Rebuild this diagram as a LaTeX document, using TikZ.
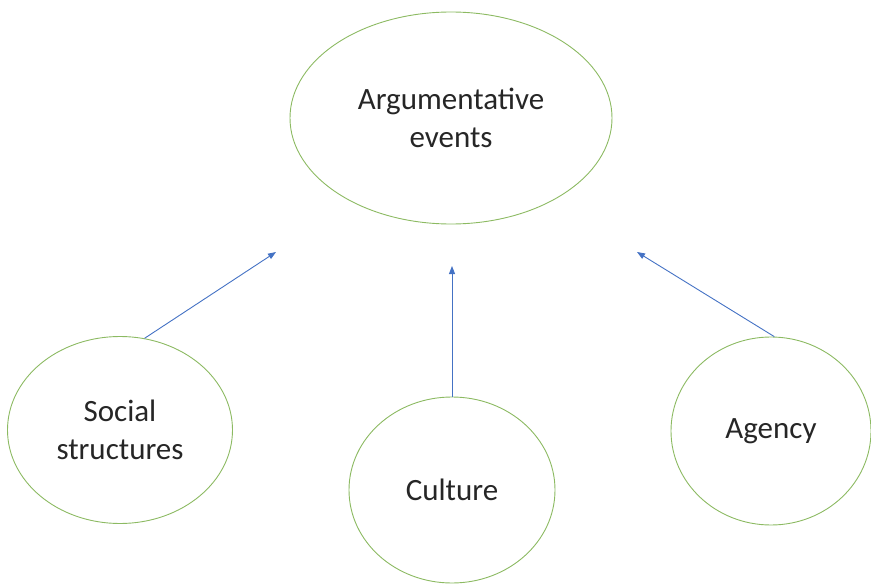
\documentclass[tikz,border=0pt]{standalone}
\usepackage{fontspec}
\setmainfont{Carlito}
\usetikzlibrary{
    shapes,
    arrows.meta,
    positioning}
\definecolor{bubblegreen}{RGB}{140,186,98}
\definecolor{arrowblue}{RGB}{68,114,196}
\tikzset{
  bubble/.style={ellipse, draw=bubblegreen, line width=.9pt, inner sep=0pt,
    align=center, text=black!85, font=\fontsize{31}{38}\selectfont},
  influence/.style={draw=arrowblue, line width=.9pt,
    -{Triangle[length=8pt,width=6pt]}}
}

\begin{document}
\begin{tikzpicture}[x=1pt,y=-1pt]
    \useasboundingbox (0,0) rectangle (871,586);
    % effect
    \node[bubble, minimum width=322pt, minimum height=212pt] (events) at (451,118) {Argumentative\\events};
    % sources
    \node[bubble, minimum width=225pt, minimum height=187pt] (social) at (120,430) {Social\\structures};
    \node[bubble, minimum width=206pt, minimum height=186pt] (culture) at (452,490) {Culture};
    \node[bubble, minimum width=200pt, minimum height=188pt] (agency) at (771,431) {Agency};
    % arrow tips
    \coordinate (socialtip) at (276,252);
    \coordinate (culturetip) at (452,266);
    \coordinate (agencytip) at (637,252);
    \draw[influence] (social.75) -- (socialtip);
    \draw[influence] (culture.north) -- (culturetip);
    \draw[influence] (agency.88) -- (agencytip);
\end{tikzpicture}
\end{document}
